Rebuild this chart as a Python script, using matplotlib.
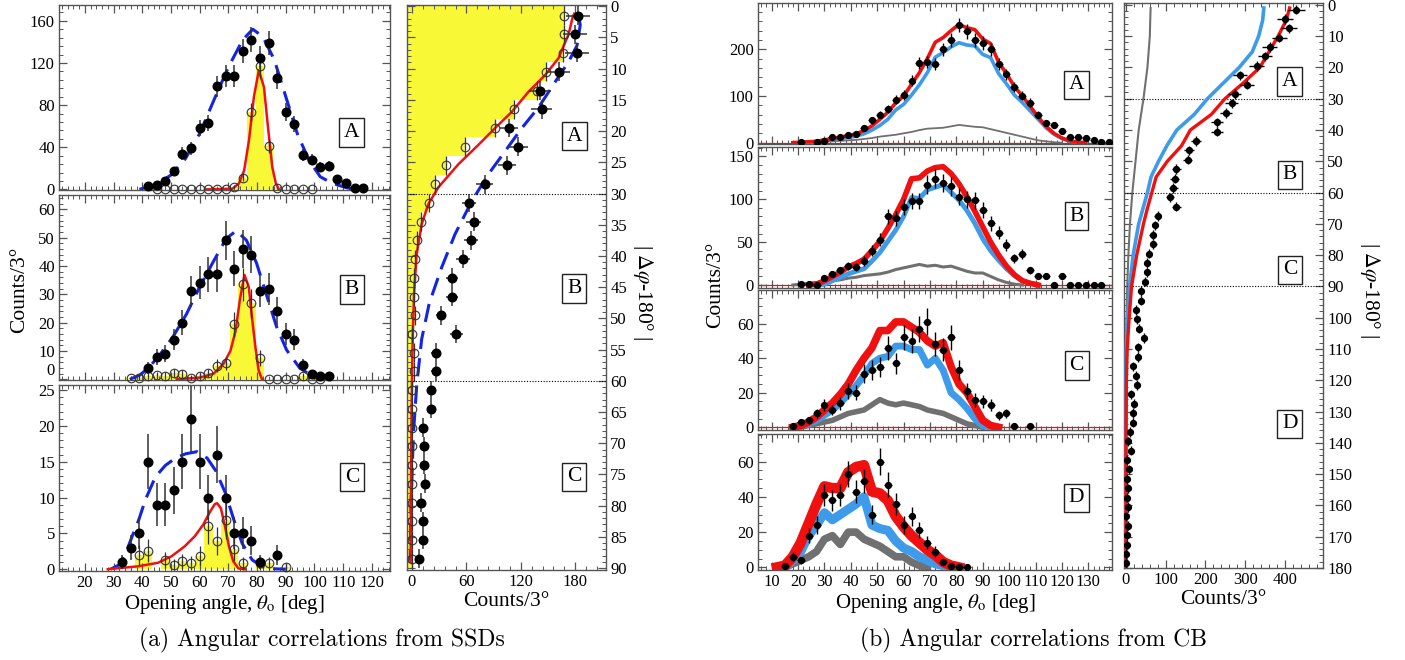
import numpy as np
import matplotlib
matplotlib.use("Agg")
import matplotlib.pyplot as plt
from matplotlib.ticker import MultipleLocator

plt.rcParams['font.family'] = ['Liberation Serif', 'DejaVu Serif']
plt.rcParams['mathtext.fontset'] = 'stix'

nan = np.nan

# ---------------- (a) SSDs: opening angle spectra ----------------
ssd_A_theta = np.arange(42, 118, 3)
ssd_A_all = [3, 4, 8, 17, 34, 39, 58, 63, 98, 108, 108, 131, 142, 125, 139, 106,
             73, 62, 33, 28, 21, 22, 10, 6, 1, 1]
ssd_A_sel_theta = np.arange(45, 100, 3)
ssd_A_sel = [0, 0, 0, 0, 0, 0, 0, 0, 0, 2.5, 11, 73, 117, 41, 1, 0, 0, 0, 0]
ssd_A_fit_theta = [39, 45, 50, 55, 60, 65, 70, 75, 78.5, 82, 86, 90, 94, 98, 102, 106, 110, 113.5]
ssd_A_fit = [0, 4.7, 13.6, 29, 53, 85, 116, 142, 152, 145, 123, 88, 53, 28, 12, 6, 2.5, 0]
ssd_A_sim_theta = [62.5, 71.4, 73.7, 75.5, 77.2, 78.9, 80.6, 82.4, 83.8, 85.3, 86.5, 87.6]
ssd_A_sim = [0, 0.6, 5.7, 18, 47, 88, 113, 97, 59, 21, 6, 0]

ssd_B_theta = np.arange(42, 106, 3)
ssd_B_all = [4, 8, 9, 14, 20, 31, 34, 37, 37, 49, 39, 46, 44, 31, 32, 24, 16, 14, 5, 2, 1, 1]
ssd_B_sel_theta = np.arange(36, 103, 3)
ssd_B_sel = [0.4, 0.6, 1.2, 1.5, 1.3, 2.2, 1.9, 0.6, 1.2, 2.1, 4.8, 5.6, 19.4, 33.5, 26.8,
             7.5, 0, 0, 0, 0, 1.2, 0, 0]
ssd_B_fit_theta = [35.7, 39.2, 42.6, 46.1, 50.7, 55.4, 60, 64.7, 69.3, 72.8, 76.3, 79.8,
                   83.3, 86.8, 90.3, 94.9, 99.6, 106]
ssd_B_fit = [0, 1.5, 4.5, 8.6, 15, 23, 32.6, 41.4, 49.7, 52.4, 49, 41, 29.7, 18.5, 10.3,
             3.9, 0.9, 0]
ssd_B_sim_theta = [52, 60, 64.9, 68.4, 70.7, 72.5, 74, 75.6, 77.1, 78.2, 79.4, 80.5, 81.7]
ssd_B_sim = [0, 0.6, 2, 5.6, 10, 17, 28, 36.8, 32.6, 22, 11.5, 3.3, 0]

ssd_C_theta = [33, 36, 39, 42, 45, 48, 51, 54, 57, 60, 63, 66, 69, 72, 75, 78, 81, 87]
ssd_C_all = [1, 3, 5, 15, 9, 9, 11, 15, 21, 15, 10, 16, 10, 5, 5, 4, 1, 2]
ssd_C_sel_theta = [39, 42, 48, 51, 54, 57, 60, 63, 66, 69, 72, 75, 81, 84, 90]
ssd_C_sel = [2, 2.6, 1.3, 0.6, 1.1, 0.9, 1.9, 6, 3.9, 6.9, 2.8, 0.8, 0.8, 0.8, 0.3]
ssd_C_fit_theta = [29, 31.9, 34.2, 36.5, 38.8, 41.1, 44.6, 48.1, 51.6, 55.1, 59.1, 62.6,
                   65.5, 69, 71.9, 74.8, 78.3, 82.9, 90]
ssd_C_fit = [0, 0.6, 2.2, 4.6, 6.9, 9.7, 12.9, 14.5, 15.5, 16.1, 16.4, 15.5, 13.8, 10.6,
             6.9, 3.6, 1.3, 0.1, 0]
ssd_C_sim_theta = [28, 38.5, 45.5, 50.2, 54.8, 58.3, 61.2, 63.6, 65.3, 66.1, 67.4, 68.8,
                   70.2, 71.7, 73.5, 75.8]
ssd_C_sim = [0, 0.4, 0.9, 1.8, 3.2, 4.6, 6.2, 8, 9.1, 9.2, 8.5, 6, 3.2, 1.1, 0.1, 0]

# ---------------- (a) SSDs: |dphi-180| spectrum ----------------
ssd_dphi = np.arange(1.5, 90, 3)
ssd_dphi_all = [183, 180, 182, 162, 141, 143, 107, 117, 105, 80, 63, 68, 65, 56, 44, 44,
                32, 49, 26, 26, 21, 21, 12.5, 13.6, 13.6, 14.4, 9.6, 11.8, 11.8, 8.1]
ssd_dphi_sel = [168, 168, 167, 148, 138, 113, 92, 59, 37, 25, 19, 9.6, 5.9, 3.3, 2.2, 2.2,
                3.3, 0, 2.2, 2.2, 0, 0, 0, 0.5, 0, 0, 0.5, 0, 0, 0]
ssd_dphi_sim_y = [1.2, 1.6, 4.5, 8.3, 11, 13.7, 16.9, 19.5, 22.2, 25.3, 29, 31.7, 34.9,
                  39.7, 46.1, 55, 65, 75, 89]
ssd_dphi_sim = [179, 177.5, 172.7, 161.7, 147, 128.5, 110.2, 91.7, 73.3, 51.2, 29.1, 18,
                10.7, 5.2, 2.2, 0.5, -0.5, -1, -1.5]
ssd_dphi_fit_y = [1.5, 3, 6.3, 8.9, 12.1, 16.2, 19.5, 23.2, 26.9, 31.2, 36.5, 41.8, 47.6,
                  53.3, 60.7, 68.7, 79.3, 88.8]
ssd_dphi_fit = [183.8, 185.6, 182, 172.7, 158, 139.6, 121.2, 102.8, 84.3, 66, 47.5, 32.8,
                19, 10.7, 5.2, 1.5, -1, -2]

# ---------------- (b) CB: opening angle spectra (3 deg bins) ----------------
cb_theta = np.arange(12, 139, 3)
cb_A = [nan, nan, nan, 1, nan, 2, 4, 13, 13, 17, 18, 32, 48, 60, 73, 92, 102, 133, 170, 173,
        168, 200, 219, 252, 238, 220, 214, 200, 168, 146, 120, 101, 86, 60, 42, 38, 26, 13,
        13, 9, 5, 2, 1]
cb_A_total = [0, 0, 0, 1, 2, 3, 6, 9, 12, 15, 19, 26, 36, 50, 65, 85, 100, 125, 150, 180, 215,
              225, 240, 253, 246, 242, 222, 212, 172, 148, 120, 100, 78, 55, 35, 20, 10, 4, 1,
              0, 0, 0, 0]
cb_A_main = [0, 0, 0, 0, 1, 2, 4, 7, 9, 11, 14, 19, 27, 37, 50, 70, 82, 102, 124, 150, 183,
             193, 205, 214, 209, 207, 189, 182, 148, 126, 102, 86, 68, 50, 32, 18, 9, 3, 1,
             0, 0, 0, 0]
cb_A_bg = [0, 0, 0, 0, 1, 1, 2, 3, 4, 5, 6, 8, 10, 13, 15, 17, 20, 23, 27, 30, 31, 32, 35, 38,
           36, 34, 33, 29, 25, 21, 17, 13, 9, 5, 3, 1, 0, 0, 0, 0, 0, 0, 0]

cb_B = [nan, nan, nan, 1, 1, 0, 8, 13, 17, 22, 21, 28, 40, 53, 80, 78, 91, 98, 98, 117, 124,
        119, 115, 103, 100, 99, 88, 72, 61, 47, 31, 36, 17, 10, 11, 0, 11, 0, 0, 0, 0, 0, nan]
cb_B_total = [0, 0, 0, 0, 0, 1, 5, 10, 15, 21, 25, 30, 40, 51, 66, 82, 100, 124, 125, 133, 137,
              138, 130, 118, 103, 86, 68, 50, 35, 22, 12, 5, 2, 0, 0, 0, 0, 0, 0, 0, 0, 0, 0]
cb_B_main = [0, 0, 0, 0, 0, 0, 1, 5, 9, 13, 16, 19, 28, 38, 51, 64, 80, 102, 101, 111, 114,
             117, 108, 99, 87, 72, 54, 40, 29, 19, 11, 5, 2, 0, 0, 0, 0, 0, 0, 0, 0, 0, 0]
cb_B_bg = [0, 0, 0, 1, 2, 3, 4, 5, 6, 8, 9, 11, 12, 13, 15, 18, 20, 22, 24, 22, 23, 21, 22, 19,
           16, 14, 14, 10, 6, 3, 1, 0, 0, 0, 0, 0, 0, 0, 0, 0, 0, 0, 0]

cb_C = [nan, nan, 1, 3, 4, 8, 13, 10, 14, 21, 20, 31, 33, 35, 46, 37, 52, 50, 57, 61, 48, 45,
        52, 33, 21, 16, 15, 13, 7, 8, 1, nan, 0.5, nan, nan, nan, nan, nan, nan, nan, nan,
        nan, nan]
cb_C_total = [0, 0, 0, 1, 3, 6, 10, 14, 19, 25, 33, 40, 46, 56, 56, 61, 61, 58, 55, 50, 47, 49,
              35, 25, 20, 12, 4, 1, 0, 0, 0, 0, 0, 0, 0, 0, 0, 0, 0, 0, 0, 0, 0]
cb_C_main = [0, 0, 0, 1, 2, 4, 7, 10, 14, 19, 24, 30, 37, 40, 41, 47, 47, 45, 45, 36, 40, 33,
             20, 16, 11, 5, 1, 0, 0, 0, 0, 0, 0, 0, 0, 0, 0, 0, 0, 0, 0, 0, 0]
cb_C_bg = [0, 0, 0, 0, 1, 2, 3, 4, 6, 8, 9, 10, 13, 16, 14, 13, 14, 13, 12, 10, 9, 8, 6, 4, 2,
           1, 0, 0, 0, 0, 0, 0, 0, 0, 0, 0, 0, 0, 0, 0, 0, 0, 0]

cb_D = [nan, 1, 6, 4, 18, 24, 41, 38, 41, 53, 43, 49, 30, 60, 47, 36, 24, 29, 21, 14, 9, 3,
        1, 0.3, 0.3, nan, nan, nan, nan, nan, nan, nan, nan, nan, nan, nan, nan, nan, nan, nan,
        nan, nan, nan]
cb_D_total = [0, 1, 6, 14, 25, 36, 46, 45, 45, 54, 57, 58, 43, 42, 38, 29, 23, 18, 14, 10, 7,
              3, 1, 0, 0, 0, 0, 0, 0, 0, 0, 0, 0, 0, 0, 0, 0, 0, 0, 0, 0, 0, 0]
cb_D_main = [0, 0, 4, 9, 18, 24, 31, 27, 30, 33, 36, 40, 24, 22, 21, 15, 11, 9, 6, 4, 2, 1, 0,
             0, 0, 0, 0, 0, 0, 0, 0, 0, 0, 0, 0, 0, 0, 0, 0, 0, 0, 0, 0]
cb_D_bg = [0, 0, 2, 4, 6, 9, 16, 18, 13, 20, 20, 16, 14, 12, 9, 6, 6, 3, 1, 0, 0, 0, 0, 0, 0,
           0, 0, 0, 0, 0, 0, 0, 0, 0, 0, 0, 0, 0, 0, 0, 0, 0, 0]

# ---------------- (b) CB: |dphi-180| spectrum ----------------
cb_dphi = np.arange(1.5, 180, 3)
cb_dphi_all = [429, 400, 410, 386, 362, 350, 329, 287, 304, 274,
               266, 252, 228, 228, 176, 158, 155, 127, 123, 119,
               111, 127, 80, 73, 67, 69, 59, 52, 52, 48,
               39, 39, 25, 28, 33, 46, 31, 31, 17, 25,
               27, 13, 21, 18, 17, 10, 6, 12, 2, 7,
               2, 6, 2, 4, 1, 6, 2, 2, 0, 0]
cb_dphi_curve_y = [1, 5, 10, 15, 20, 25, 30, 35, 40, 45, 50, 55, 60, 65, 70, 80, 90, 100,
                   110, 120, 140, 160, 180]
cb_dphi_total = [412, 403, 383, 360, 337, 295, 249, 215, 162, 140, 104, 76, 65, 54, 44, 27,
                 14, 8, 3, 1, 0, 0, 0]
cb_dphi_main = [347, 344, 334, 318, 285, 245, 205, 172, 128, 103, 82, 63, 54, 43, 32, 18, 9,
                4, 1, 0, 0, 0, 0]
cb_dphi_bg = [62, 61, 60, 57, 54, 49, 44, 38, 32, 28, 24, 20, 16, 13, 10, 6, 3, 1.5, 0.5, 0,
              0, 0, 0]

YELLOW = '#f8f836'
BLUE_A = '#1424e6'
RED = '#f01010'
SKY = '#3d9be9'
GREY = '#707070'

W, H = 1405, 660
fig = plt.figure(figsize=(W / 100, H / 100), dpi=100)


def box(x0, y0, x1, y1):
    return fig.add_axes([x0 / W, 1 - y1 / H, (x1 - x0) / W, (y1 - y0) / H])


def style(ax, xmaj, xmin, ymaj, ymin):
    ax.xaxis.set_major_locator(MultipleLocator(xmaj))
    ax.xaxis.set_minor_locator(MultipleLocator(xmin))
    ax.yaxis.set_major_locator(MultipleLocator(ymaj))
    ax.yaxis.set_minor_locator(MultipleLocator(ymin))
    ax.tick_params(which='both', direction='in', top=True, right=True,
                   color='#555555', labelsize=12, pad=3)
    ax.tick_params(which='major', length=6, width=0.9)
    ax.tick_params(which='minor', length=3, width=0.7)
    for s in ax.spines.values():
        s.set_color('#555555')
        s.set_linewidth(1.0)


def tag(ax, x, y, s, trans=None):
    ax.text(x, y, s, transform=trans if trans is not None else ax.transAxes,
            ha='center', va='center', fontsize=15.5, zorder=10,
            bbox=dict(boxstyle='square,pad=0.22', fc='white', ec='#222222', lw=1))


def trim(y):
    # keep one zero on either side of the non-zero run, drop the flat tails
    y = np.asarray(y, float)
    nz = np.nonzero(y)[0]
    lo, hi = max(nz[0] - 1, 0), min(nz[-1] + 1, len(y) - 1)
    out = np.full_like(y, np.nan)
    out[lo:hi + 1] = y[lo:hi + 1]
    return out


# ---------- (a) left column ----------
ssd_panels = [
    ((5, 190), (-0.6, 175), 40, 8, 'A', ssd_A_theta, ssd_A_all, ssd_A_sel_theta, ssd_A_sel,
     ssd_A_fit_theta, ssd_A_fit, ssd_A_sim_theta, ssd_A_sim, 0.31),
    ((195, 380), (-0.25, 65), 10, 2, 'B', ssd_B_theta, ssd_B_all, ssd_B_sel_theta, ssd_B_sel,
     ssd_B_fit_theta, ssd_B_fit, ssd_B_sim_theta, ssd_B_sim, 0.49),
    ((385, 571), (-0.25, 25.7), 5, 1, 'C', ssd_C_theta, ssd_C_all, ssd_C_sel_theta, ssd_C_sel,
     ssd_C_fit_theta, ssd_C_fit, ssd_C_sim_theta, ssd_C_sim, 0.505),
]
for i, (ys, ylim, ymaj, ymin, lab, th, al, sth, sel, fth, fit, mth, sim, ty) in enumerate(ssd_panels):
    ax = box(59, ys[0], 390, ys[1])
    ax.bar(sth, sel, width=3, color=YELLOW, edgecolor='none', zorder=1)
    ax.plot(fth, fit, color=BLUE_A, lw=2.2, dashes=(6, 3), zorder=2)
    ax.plot(mth, sim, color=RED, lw=1.8, zorder=3)
    ax.errorbar(th, al, yerr=np.sqrt(al), fmt='o', ms=6.2, color='black', ecolor='#333333',
                elinewidth=1.1, capsize=0, zorder=5, clip_on=False)
    ax.errorbar(sth, sel, yerr=np.sqrt(sel), fmt='o', ms=6.2, mfc='none', mec='#333333',
                mew=0.8, ecolor='#333333', elinewidth=0.9, capsize=0, zorder=4, clip_on=False)
    ax.set_xlim(11, 126.3)
    ax.set_ylim(*ylim)
    style(ax, 10, 2, ymaj, ymin)
    if i < 2:
        ax.tick_params(labelbottom=False)
    else:
        ax.set_xticks(np.arange(20, 121, 10))
        ax.set_xlabel(r'Opening angle, $\theta_{\rm o}$ [deg]', fontsize=15, labelpad=1)
    if i == 1:
        # the "0" of B sits just above the "25" of C: lift it onto the baseline side
        ax.set_yticks(np.arange(0, 61, 10))
        ax.get_yticklabels()[0].set_va('bottom')
    tag(ax, 0.885, ty, lab)

fig.text(20 / W, 1 - 290 / H, 'Counts/3°', rotation=90, ha='center', va='center', fontsize=15.5)

# ---------- (a) right column ----------
ax = box(407, 5, 606, 570)
xl = (-5.5, 214)
ax.barh(ssd_dphi, np.asarray(ssd_dphi_sel) - xl[0], left=xl[0], height=3, color=YELLOW,
        edgecolor='none', zorder=1)
ax.plot(ssd_dphi_fit, ssd_dphi_fit_y, color=BLUE_A, lw=2.2, dashes=(6, 3), zorder=2)
ax.plot(ssd_dphi_sim, ssd_dphi_sim_y, color=RED, lw=1.8, zorder=3)
ax.errorbar(ssd_dphi_all, ssd_dphi, xerr=np.sqrt(ssd_dphi_all), yerr=1.5, fmt='o', ms=6.2,
            color='black', ecolor='#333333', elinewidth=1.1, capsize=0, zorder=5)
ax.errorbar(ssd_dphi_sel, ssd_dphi, yerr=1.5, fmt='o', ms=6.2, mfc='none', mec='#333333',
            mew=0.8, ecolor='#333333', elinewidth=0.9, capsize=0, zorder=4)
for d in (30, 60):
    ax.axhline(d, color='black', lw=0.8, ls=(0, (1, 1.5)), zorder=2)
ax.set_xlim(*xl)
ax.set_ylim(90.3, -0.2)
style(ax, 60, 12, 5, 1)
ax.tick_params(labelleft=False, labelright=True)
ax.set_xlabel('Counts/3°', fontsize=15.5, labelpad=1)
for lab, d in (('A', 20.8), ('B', 45.2), ('C', 75.4)):
    tag(ax, 0.84, d, lab, trans=ax.get_yaxis_transform())
fig.text(643 / W, 1 - 292 / H, r'| $\Delta\varphi$-180° |', rotation=270, ha='center',
         va='center', fontsize=15.5)

# ---------- (b) left column ----------
cb_panels = [
    ((3, 144), (-2.8, 299), 100, 20, 'A', cb_A, cb_A_total, cb_A_main, cb_A_bg, (2.6, 2.6, 1.3), 0.42),
    ((147, 288), (-3.5, 161), 50, 10, 'B', cb_B, cb_B_total, cb_B_main, cb_B_bg, (4, 3.5, 2.2), 0.51),
    ((290, 430), (-1.6, 79.5), 20, 5, 'C', cb_C, cb_C_total, cb_C_main, cb_C_bg, (5.5, 5, 4), 0.46),
    ((434, 570), (-1.5, 75.7), 20, 5, 'D', cb_D, cb_D_total, cb_D_main, cb_D_bg, (7.5, 6.5, 5.5), 0.53),
]
for i, (ys, ylim, ymaj, ymin, lab, data, tot, main, bg, lws, ty) in enumerate(cb_panels):
    ax = box(758, ys[0], 1112, ys[1])
    ax.plot(cb_theta, trim(bg), color=GREY, lw=lws[2], zorder=2)
    ax.plot(cb_theta, trim(main), color=SKY, lw=lws[1], zorder=3)
    ax.plot(cb_theta, trim(tot), color=RED, lw=lws[0], zorder=4)
    if i < 3:
        ax.axhline(0, color=RED, lw=0.9, zorder=1)
    ax.errorbar(cb_theta, data, yerr=np.sqrt(data), xerr=1.5, fmt='o', ms=4.2, color='black',
                ecolor='black', elinewidth=1.0, capsize=0, zorder=6)
    ax.set_xlim(4.8, 139)
    ax.set_ylim(*ylim)
    style(ax, 10, 2, ymaj, ymin)
    if i < 3:
        ax.tick_params(labelbottom=False)
    else:
        ax.set_xlabel(r'Opening angle, $\theta_{\rm o}$ [deg]', fontsize=15, labelpad=1)
    tag(ax, 0.90, ty, lab)

fig.text(716 / W, 1 - 285 / H, 'Counts/3°', rotation=90, ha='center', va='center', fontsize=15.5)

# ---------- (b) right column ----------
ax = box(1124, 3, 1323, 568)
ax.plot(cb_dphi_bg, cb_dphi_curve_y, color=GREY, lw=1.5, zorder=2)
ax.plot(cb_dphi_main, cb_dphi_curve_y, color=SKY, lw=2.6, zorder=3)
ax.plot(cb_dphi_total, cb_dphi_curve_y, color=RED, lw=2.4, zorder=4)
ax.errorbar(cb_dphi_all, cb_dphi, xerr=np.sqrt(cb_dphi_all), yerr=1.5, fmt='o', ms=4.2,
            color='black', ecolor='black', elinewidth=1.0, capsize=0, zorder=6)
for d in (30, 60, 90):
    ax.axhline(d, color='black', lw=0.8, ls=(0, (1, 1.5)), zorder=2)
ax.set_xlim(-5, 496)
ax.set_ylim(180, -0.6)
style(ax, 100, 20, 10, 2)
ax.tick_params(labelleft=False, labelright=True)
ax.set_xlabel('Counts/3°', fontsize=15.5, labelpad=1)
for lab, d in (('A', 24.5), ('B', 54.3), ('C', 84.7), ('D', 133.9)):
    tag(ax, 0.834, d, lab, trans=ax.get_yaxis_transform())
fig.text(1370 / W, 1 - 290 / H, r'| $\Delta\varphi$-180° |', rotation=270, ha='center',
         va='center', fontsize=15.5)

# ---------- captions ----------
fig.text(322 / W, 1 - 640 / H, '(a) Angular correlations from SSDs', ha='center', va='center',
         fontsize=17, family=['cmr10', 'DejaVu Serif'])
fig.text(1034 / W, 1 - 640 / H, '(b) Angular correlations from CB', ha='center', va='center',
         fontsize=17, family=['cmr10', 'DejaVu Serif'])

fig.savefig('out.png', dpi=100)
